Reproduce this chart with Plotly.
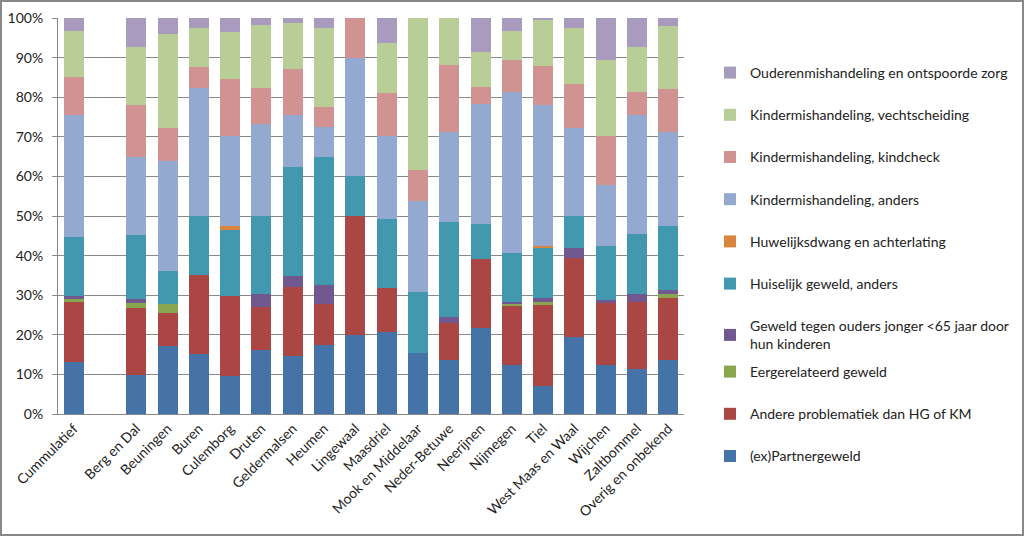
import plotly.graph_objects as go

categories = ["Cummulatief", " ", "Berg en Dal", "Beuningen", "Buren", "Culemborg", "Druten",
              "Geldermalsen", "Heumen", "Lingewaal", "Maasdriel", "Mook en Middelaar",
              "Neder-Betuwe", "Neerijnen", "Nijmegen", "Tiel", "West Maas en Waal",
              "Wijchen", "Zaltbommel", "Overig en onbekend"]

partnergeweld   = [13.1, None, 9.8, 17.1, 15.1, 9.7, 16.1, 14.6, 17.4, 20.0, 20.6, 15.4, 13.7, 21.7, 12.5, 7.1, 19.4, 12.5, 11.4, 13.7]
andere          = [15.3, None, 17.0, 8.4, 20.0, 20.2, 10.8, 17.4, 10.4, 30.0, 11.3, 0, 9.3, 17.4, 14.8, 20.5, 19.9, 15.5, 17.0, 15.7]
eergerelateerd  = [0.6, None, 1.2, 2.3, 0, 0, 0, 0, 0, 0, 0, 0, 0, 0, 0.5, 0.6, 0, 0, 0, 1.0]
geweld_ouders   = [0.9, None, 1.1, 0, 0, 0, 3.4, 2.8, 4.7, 0, 0, 0, 1.5, 0, 0.5, 1.2, 2.5, 0.9, 1.8, 0.8]
huiselijk       = [14.8, None, 16.1, 8.4, 14.9, 16.6, 19.7, 27.7, 32.5, 10.0, 17.4, 15.4, 24.0, 8.9, 12.3, 12.4, 8.2, 13.4, 15.2, 16.3]
huwelijksdwang  = [0, None, 0, 0, 0, 1.0, 0, 0, 0, 0, 0, 0, 0, 0, 0, 0.7, 0, 0, 0, 0]
km_anders       = [30.7, None, 19.6, 27.8, 32.3, 22.8, 23.3, 12.9, 7.6, 30.0, 20.9, 23.1, 22.8, 30.3, 40.6, 35.6, 22.3, 15.6, 30.0, 23.8]
km_kindcheck    = [9.6, None, 13.2, 8.3, 5.3, 14.4, 9.0, 11.6, 5.0, 10.0, 10.8, 7.7, 16.8, 4.3, 8.1, 9.8, 11.0, 12.3, 5.8, 10.7]
km_vecht        = [11.6, None, 14.8, 23.7, 10.0, 11.8, 16.0, 11.7, 20.0, 0, 12.8, 38.5, 11.9, 8.7, 7.5, 11.7, 14.1, 19.2, 11.4, 16.1]
ouderen         = [3.4, None, 7.2, 4.0, 2.4, 3.5, 1.7, 1.3, 2.4, 0, 6.2, 0, 0, 8.7, 3.2, 0.4, 2.6, 10.6, 7.4, 1.9]

series = [
    ("(ex)Partnergeweld", partnergeweld, "#4572A7"),
    ("Andere problematiek dan HG of KM", andere, "#AA4643"),
    ("Eergerelateerd geweld", eergerelateerd, "#89A54E"),
    ("Geweld tegen ouders jonger <65 jaar door<br>hun kinderen", geweld_ouders, "#71588F"),
    ("Huiselijk geweld, anders", huiselijk, "#4198AF"),
    ("Huwelijksdwang en achterlating", huwelijksdwang, "#DB843D"),
    ("Kindermishandeling, anders", km_anders, "#93A9CF"),
    ("Kindermishandeling, kindcheck", km_kindcheck, "#D19392"),
    ("Kindermishandeling, vechtscheiding", km_vecht, "#B9CD96"),
    ("Ouderenmishandeling en ontspoorde zorg", ouderen, "#A99BBD"),
]

FONT = "Lato, Open Sans, sans-serif"

fig = go.Figure()
n = len(series)
for i, (name, vals, col) in enumerate(series):
    fig.add_trace(go.Bar(x=categories, y=vals, name=name, marker_color=col,
                         marker_line_width=0, legendgroup=f"g{i}",
                         legend="legend2" if i < 3 else "legend",
                         legendrank=1000 + (n - i)))

W, H = 1024, 536
ml, mr, mt, mb = 58, 340, 18, 122
pw, ph = W - ml - mr, H - mt - mb

legend_common = dict(traceorder="grouped", tracegroupgap=21, maxheight=520,
                     x=(710 - ml) / pw, xanchor="left", yanchor="top",
                     font=dict(size=14, family=FONT, color="#222"),
                     itemwidth=30, bgcolor="rgba(0,0,0,0)")

fig.update_layout(
    width=W, height=H,
    barmode="stack", barnorm="percent", bargap=0.36,
    margin=dict(l=ml, r=mr, t=mt, b=mb, autoexpand=False),
    paper_bgcolor="white", plot_bgcolor="white",
    font=dict(family=FONT, size=14, color="#222"),
    showlegend=True,
    legend=dict(legend_common, y=1 - (57 - mt) / ph),
    legend2=dict(legend_common, y=1 - (356 - mt) / ph),
    xaxis=dict(type="category", tickangle=-45, showline=True, linecolor="#888",
               linewidth=1, ticks="", automargin=False,
               tickfont=dict(size=14, family=FONT)),
    yaxis=dict(range=[0, 100], tickvals=list(range(0, 101, 10)),
               ticktext=[f"{v}%" for v in range(0, 101, 10)],
               showgrid=True, gridcolor="#888", gridwidth=1,
               showline=True, linecolor="#888", linewidth=1,
               ticks="outside", ticklen=5, tickcolor="#888", automargin=False,
               ticklabelstandoff=6,
               tickfont=dict(size=14, family=FONT), zeroline=False),
    shapes=[dict(type="rect", xref="paper", yref="paper",
                 x0=-(ml - 1) / pw, x1=1 + (mr - 1) / pw,
                 y0=-(mb - 1) / ph, y1=1 + (mt - 1) / ph,
                 line=dict(color="#888", width=2), fillcolor="rgba(0,0,0,0)")],
)

fig.write_html("out.html", config={"displayModeBar": False},
               post_script="document.body.style.margin='0';")
